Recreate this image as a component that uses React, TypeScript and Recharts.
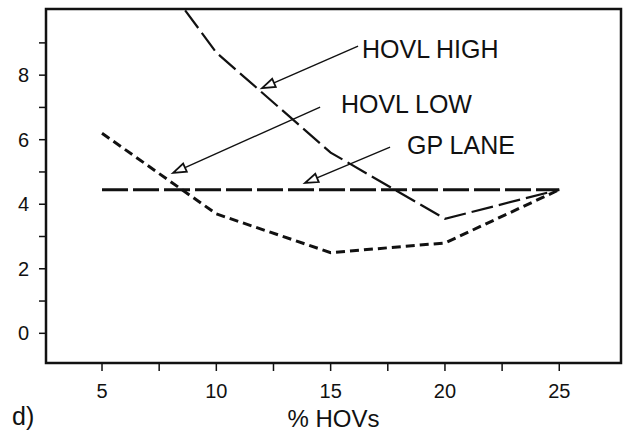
import { LineChart, Line, XAxis, YAxis, ReferenceLine, ReferenceDot, ReferenceArea, Label } from 'recharts';

const hovs = [5, 10, 15, 20, 25];
const hovlHigh = [13.5, 8.7, 5.6, 3.55, 4.45];
const hovlLow = [6.2, 3.7, 2.5, 2.8, 4.45];
const gpLane = [4.45, 4.45, 4.45, 4.45, 4.45];

const xTicks = [5, 7.5, 10, 12.5, 15, 17.5, 20, 22.5, 25];
const yTicks = [0, 1, 2, 3, 4, 5, 6, 7, 8, 9];

// annotation arrows: text anchor, arrow start, arrow tip (data units)
const notes = [
    { text: 'HOVL HIGH', tx: 16.37, ty: 8.53, from: { x: 16.2, y: 8.9 }, to: { x: 12.0, y: 7.6 } },
    { text: 'HOVL LOW', tx: 15.45, ty: 6.83, from: { x: 14.54, y: 7.01 }, to: { x: 8.11, y: 4.97 } },
    { text: 'GP LANE', tx: 18.34, ty: 5.56, from: { x: 17.6, y: 5.77 }, to: { x: 13.88, y: 4.66 } },
];

const xDomain = [2.55, 27.7];
const yDomain = [-0.92, 10.05];

const data = hovs.map((h, i) => ({
    hov: h,
    high: hovlHigh[i],
    low: hovlLow[i],
    gp: gpLane[i],
}));

const ink = '#111';
const font = '"Liberation Sans", Arial, Helvetica, sans-serif';

const Arrow = (props: any) => {
    const { x1, y1, x2, y2 } = props;
    const ang = Math.atan2(y2 - y1, x2 - x1);
    const len = 13;
    const half = 4.5;
    const bx = x2 - len * Math.cos(ang);
    const by = y2 - len * Math.sin(ang);
    const px = -Math.sin(ang) * half;
    const py = Math.cos(ang) * half;
    return (
        <g>
            <line x1={x1} y1={y1} x2={bx} y2={by} stroke={ink} strokeWidth={1.4} />
            <polygon
                points={`${x2},${y2} ${bx + px},${by + py} ${bx - px},${by - py}`}
                fill="none"
                stroke={ink}
                strokeWidth={1.8}
                strokeLinejoin="miter"
            />
        </g>
    );
};

const noteText = (text: string) => (props: any) => (
    <text x={props.cx} y={props.cy} fontSize={25} fontFamily={font} fill={ink}>
        {text}
    </text>
);

const App = () => {
    return (
        <div style={{ position: 'absolute', left: 0, top: 0, width: 631, height: 435, background: '#fff' }}>
            <LineChart
                width={631}
                height={435}
                data={data}
                margin={{ top: 9, right: 10, bottom: 0, left: 0 }}
            >
                <XAxis
                    dataKey="hov"
                    type="number"
                    domain={xDomain}
                    ticks={xTicks}
                    allowDataOverflow
                    axisLine={false}
                    tickLine={{ stroke: ink, strokeWidth: 1.5 }}
                    tickSize={8}
                    tickMargin={13}
                    height={72}
                    tick={{ fill: ink, fontSize: 20, fontFamily: font }}
                    tickFormatter={(v) => (v % 5 === 0 ? String(v) : '')}
                    interval={0}
                >
                    <Label
                        value="% HOVs"
                        position="insideBottom"
                        offset={8}
                        style={{ fill: ink, fontSize: 24, fontFamily: font }}
                    />
                </XAxis>
                <YAxis
                    type="number"
                    domain={yDomain}
                    ticks={yTicks}
                    allowDataOverflow
                    axisLine={false}
                    tickLine={{ stroke: ink, strokeWidth: 1.5 }}
                    tickSize={7}
                    tickMargin={10}
                    width={46}
                    tick={{ fill: ink, fontSize: 20, fontFamily: font }}
                    tickFormatter={(v) => (v % 2 === 0 ? String(v) : '')}
                    interval={0}
                />
                <ReferenceArea
                    x1={xDomain[0]}
                    x2={xDomain[1]}
                    y1={yDomain[0]}
                    y2={yDomain[1]}
                    fill="none"
                    fillOpacity={0}
                    stroke={ink}
                    strokeWidth={2.5}
                />
                <Line
                    dataKey="gp"
                    stroke={ink}
                    strokeWidth={3}
                    strokeDasharray="26 5"
                    dot={false}
                    isAnimationActive={false}
                />
                <Line
                    dataKey="low"
                    stroke={ink}
                    strokeWidth={3}
                    strokeDasharray="9 5"
                    dot={false}
                    isAnimationActive={false}
                />
                <Line
                    dataKey="high"
                    stroke={ink}
                    strokeWidth={2.2}
                    strokeDasharray="22 6"
                    dot={false}
                    isAnimationActive={false}
                />
                {notes.map((n) => (
                    <ReferenceLine key={`arrow-${n.text}`} segment={[n.from, n.to]} shape={Arrow} />
                ))}
                {notes.map((n) => (
                    <ReferenceDot key={`text-${n.text}`} x={n.tx} y={n.ty} r={0} shape={noteText(n.text)} />
                ))}
            </LineChart>
            <svg width={60} height={50} style={{ position: 'absolute', left: 0, top: 390 }}>
                <text x={12} y={35} fontSize={25} fontFamily={font} fill={ink}>
                    d)
                </text>
            </svg>
        </div>
    );
};

export default App;
